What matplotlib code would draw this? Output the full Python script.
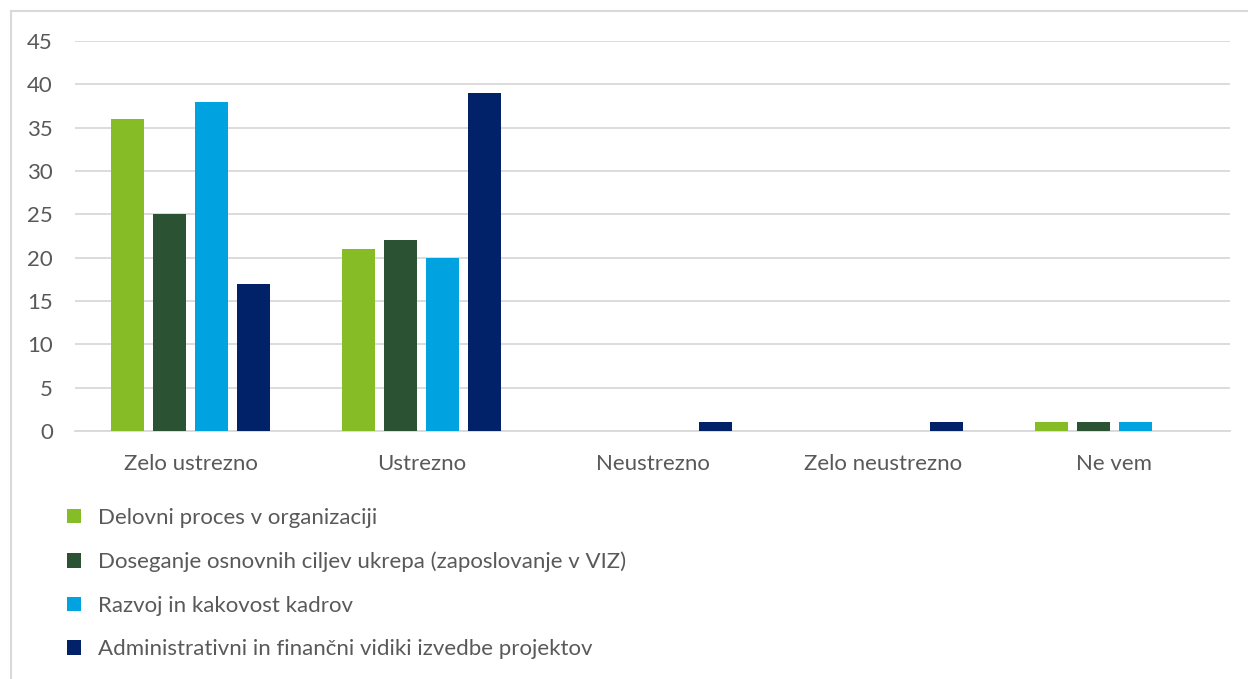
import numpy as np
import matplotlib.pyplot as plt
from matplotlib.lines import Line2D
from matplotlib.patches import Patch

categories = ["Zelo ustrezno", "Ustrezno", "Neustrezno", "Zelo neustrezno", "Ne vem"]
series_names = [
    "Delovni proces v organizaciji",
    "Doseganje osnovnih ciljev ukrepa (zaposlovanje v VIZ)",
    "Razvoj in kakovost kadrov",
    "Administrativni in finančni vidiki izvedbe projektov",
]
delovni = [36, 21, 0, 0, 1]
doseganje = [25, 22, 0, 0, 1]
razvoj = [38, 20, 0, 0, 1]
admin = [17, 39, 1, 1, 0]
colors = ["#86BC25", "#2C5234", "#00A3E0", "#012169"]

plt.rcParams["font.family"] = ["Lato", "DejaVu Sans"]
TXT = "#595959"
FS = 16

W, H = 1248, 679
fig = plt.figure(figsize=(W / 100, H / 100), dpi=100)
ax = fig.add_axes([75 / W, 1 - 431 / H, (1230 - 75) / W, (431 - 41) / H])

x = np.arange(len(categories))
bw, step = 0.143, 0.182
for i, (vals, c, name) in enumerate(zip([delovni, doseganje, razvoj, admin], colors, series_names)):
    ax.bar(x + (i - 1.5) * step, vals, width=bw, color=c, label=name, zorder=3)

ax.set_xlim(-0.5, len(categories) - 0.5)
ax.set_ylim(0, 45)
ax.set_yticks(range(0, 46, 5))
ax.set_xticks(x, categories)
ax.grid(axis="y", color="#D9D9D9", lw=1.3, zorder=0)
for s in ["top", "right", "left"]:
    ax.spines[s].set_visible(False)
ax.spines["bottom"].set_color("#D9D9D9")
ax.spines["bottom"].set_linewidth(1.3)
ax.tick_params(axis="both", length=0, labelsize=FS, colors=TXT)
ax.tick_params(axis="y", pad=16)
ax.tick_params(axis="x", pad=16.5)

# outer chart frame (top and left edge visible in the crop)
fig.add_artist(Line2D([11 / W, 1], [1 - 11 / H] * 2, color="#D9D9D9", lw=1.5, transform=fig.transFigure))
fig.add_artist(Line2D([11 / W] * 2, [0, 1 - 11 / H], color="#D9D9D9", lw=1.5, transform=fig.transFigure))

handles = [Patch(facecolor=c, edgecolor="none") for c in colors]
leg = fig.legend(handles, series_names, loc="upper left", bbox_to_anchor=(47 / W, 1 - 488 / H),
                 frameon=False, fontsize=FS, labelcolor=TXT, handlelength=0.63, handleheight=0.63,
                 handletextpad=0.77, labelspacing=1.06)

fig.savefig("out.png", dpi=100)
